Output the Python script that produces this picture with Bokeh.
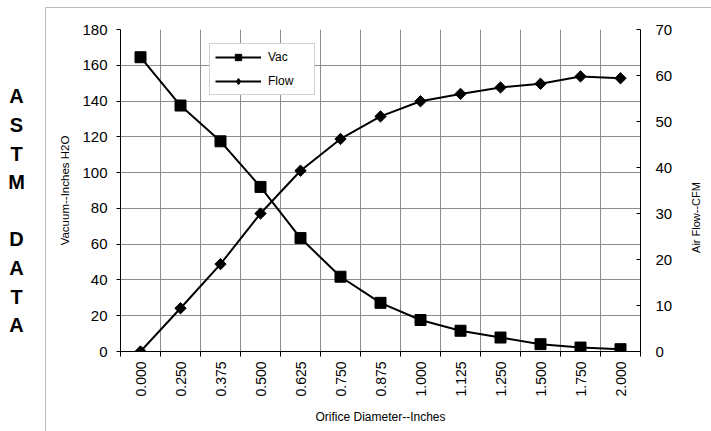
import numpy as np
from bokeh.plotting import figure
from bokeh.layouts import row
from bokeh.models import (Range1d, LinearAxis, FixedTicker, Legend, LegendItem, Label,
                          ColumnDataSource, CDSView, IndexFilter)
from bokeh.embed import file_html
from bokeh.resources import INLINE

# ---- data ----
diameters = ["0.000", "0.250", "0.375", "0.500", "0.625", "0.750", "0.875",
             "1.000", "1.125", "1.250", "1.500", "1.750", "2.000"]
vac = [164.5, 137.5, 117.5, 92.0, 63.4, 41.8, 27.2, 17.6, 11.6, 7.8, 4.1, 2.2, 1.3]
flow = [0.0, 9.4, 19.0, 30.0, 39.3, 46.2, 51.1, 54.4, 56.0, 57.4, 58.2, 59.8, 59.4]
vac_ticks = [0, 20, 40, 60, 80, 100, 120, 140, 160, 180]
flow_ticks = [0, 10, 20, 30, 40, 50, 60, 70]
side_letters = ["A", "S", "T", "M", "", "D", "A", "T", "A"]
x_title = "Orifice Diameter--Inches"
y_title = "Vacuum--Inches H2O"
y2_title = "Air Flow--CFM"

FONT = "Liberation Sans"
BOX = "1px solid #bdbdbd"
PAGE_W, PAGE_H = 711, 431
LEFT_W = 45          # strip holding the side letters
RIGHT_W = 31         # strip holding the right axis title
TOP = 7              # top edge of the chart-area box
MAIN_W = PAGE_W - LEFT_W - RIGHT_W
MAIN_H = PAGE_H - TOP
MB_TOP, MB_BOTTOM = 21, 81   # main plot borders (row aligns these across strips)

# ---------------- side letters strip ----------------
# frame of this strip spans page y MB_TOP .. PAGE_H - MB_BOTTOM (aligned by the row)
side = figure(width=LEFT_W, height=PAGE_H, output_backend="svg", toolbar_location=None,
              x_axis_type=None, y_axis_type=None,
              x_range=Range1d(0, LEFT_W), y_range=Range1d(PAGE_H - MB_BOTTOM, MB_TOP),
              outline_line_color=None)
side.min_border_left = side.min_border_right = 0
side.min_border_top = MB_TOP
side.min_border_bottom = MB_BOTTOM
letters = [c for c in side_letters if c]
rows_ = [i for i, c in enumerate(side_letters) if c]
side_src = ColumnDataSource(dict(x=[16.0] * len(letters),
                                 y=[95.8 + 28.6 * i for i in rows_],
                                 t=letters))
side.text("x", "y", text="t", source=side_src, text_align="center",
          text_baseline="middle", text_font={"value": FONT}, text_font_size="20px",
          text_font_style="bold", text_color="black")

# ---------------- main chart ----------------
idx = list(range(len(diameters)))
src = ColumnDataSource(dict(x=idx, vac=vac, flow=flow))

p = figure(width=MAIN_W, height=MAIN_H, output_backend="svg", toolbar_location=None,
           x_range=Range1d(-0.5, len(diameters) - 0.5),
           y_range=Range1d(vac_ticks[0], vac_ticks[-1]))
p.margin = (TOP, 0, 0, 0)
p.styles = {"border-top": BOX, "border-left": BOX}
p.min_border_left = 74
p.min_border_right = 41
p.min_border_top = MB_TOP
p.min_border_bottom = MB_BOTTOM
p.outline_line_color = None
p.background_fill_color = "white"
p.border_fill_color = "white"
p.extra_y_ranges = {"flow": Range1d(flow_ticks[0], flow_ticks[-1])}

xt = FixedTicker(ticks=idx, minor_ticks=[i - 0.5 for i in range(len(diameters) + 1)])
xa = p.xaxis[0]
xa.ticker = xt
xa.major_label_overrides = {i: d for i, d in zip(idx, diameters)}
xa.major_label_orientation = np.pi / 2
xa.major_tick_out = 0
xa.major_tick_in = 0
xa.minor_tick_out = 5
xa.minor_tick_in = 0
xa.minor_tick_line_color = "black"
xa.axis_line_color = "black"
xa.major_label_standoff = 5
xa.major_label_text_font = FONT
xa.major_label_text_font_size = "14px"
xa.major_label_text_color = "black"
xa.axis_label = x_title
xa.axis_label_text_font = FONT
xa.axis_label_text_font_size = "12px"
xa.axis_label_text_font_style = "normal"
xa.axis_label_text_color = "black"
xa.axis_label_standoff = 10

p.xgrid.ticker = xt
p.xgrid.grid_line_color = None
p.xgrid.minor_grid_line_color = "#8c8c8c"
p.xgrid.minor_grid_line_width = 1

yt = FixedTicker(ticks=vac_ticks)
ya = p.yaxis[0]
ya.ticker = yt
ya.major_tick_out = 4
ya.major_tick_in = 0
ya.minor_tick_line_color = None
ya.axis_line_color = "black"
ya.major_label_standoff = 9
ya.major_label_text_font = FONT
ya.major_label_text_font_size = "15px"
ya.major_label_text_color = "black"
ya.axis_label = y_title
ya.axis_label_text_font = FONT
ya.axis_label_text_font_size = "11.5px"
ya.axis_label_text_font_style = "normal"
ya.axis_label_text_color = "black"
ya.axis_label_standoff = 8

p.ygrid.ticker = yt
p.ygrid.grid_line_color = "#8c8c8c"
p.ygrid.grid_line_width = 1

ra = LinearAxis(y_range_name="flow", ticker=FixedTicker(ticks=flow_ticks))
ra.major_tick_out = 0
ra.major_tick_in = 4
ra.minor_tick_line_color = None
ra.axis_line_color = "black"
ra.major_label_standoff = 15
ra.major_label_text_font = FONT
ra.major_label_text_font_size = "15px"
ra.major_label_text_color = "black"
p.add_layout(ra, "right")

l1 = p.line("x", "vac", source=src, line_color="black", line_width=2)
s1 = p.scatter("x", "vac", source=src, marker="square", size=11,
               fill_color="black", line_color="black")
l2 = p.line("x", "flow", source=src, y_range_name="flow", line_color="black", line_width=2)
# legend proxy: the legend ignores marker angles, so it uses a diamond marker
# (drawn only at the first point, hidden under the rotated square there)
s2_leg = p.scatter("x", "flow", source=src, y_range_name="flow", marker="diamond",
                   size=10, fill_color="black", line_color="black",
                   view=CDSView(filter=IndexFilter(indices=[0])))
s2 = p.scatter("x", "flow", source=src, y_range_name="flow", marker="square",
               angle=np.pi / 4, size=8, fill_color="black", line_color="black")

legend = Legend(items=[LegendItem(label="Vac", renderers=[l1, s1]),
                       LegendItem(label="Flow", renderers=[l2, s2_leg])],
                location=(89, 256), margin=0, padding=5, spacing=8,
                glyph_width=46, glyph_height=16, label_height=16,
                label_standoff=7, label_width=41,
                border_line_color="#a0a0a0", border_line_width=1,
                background_fill_color="white", background_fill_alpha=1.0,
                label_text_font=FONT, label_text_font_size="12px",
                label_text_color="black")
p.add_layout(legend, "center")

# ---------------- right title strip ----------------
# canvas starts at page y TOP+1; its frame spans page y 29 .. 351
rt_top = TOP + 1 + MB_TOP
rt_bottom = TOP + 1 + MAIN_H - MB_BOTTOM
rt = figure(width=RIGHT_W, height=MAIN_H, output_backend="svg", toolbar_location=None,
            x_axis_type=None, y_axis_type=None,
            x_range=Range1d(PAGE_W - RIGHT_W, PAGE_W), y_range=Range1d(rt_bottom, rt_top),
            outline_line_color=None)
rt.min_border_left = rt.min_border_right = 0
rt.min_border_top = MB_TOP
rt.min_border_bottom = MB_BOTTOM
rt.margin = (TOP, 0, 0, 0)
rt.styles = {"border-top": BOX}
rt.add_layout(Label(text=y2_title, x=695, y=217, angle=np.pi / 2,
                    text_align="center", text_baseline="middle",
                    text_font=FONT, text_font_size="11px", text_color="black"))

layout = row(side, p, rt, spacing=0)
open("out.html", "w").write(file_html(layout, INLINE))
